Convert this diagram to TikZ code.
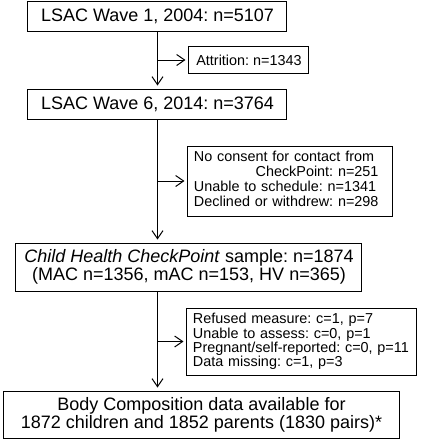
\documentclass[tikz,border=0pt]{standalone}
\usepackage{fontspec}
\setmainfont{Liberation Sans}
\frenchspacing
\usetikzlibrary{shapes,arrows.meta}
\tikzstyle{block} = [rectangle, draw, line width=1pt,
    font=\fontsize{18}{18}\selectfont, align=center, inner sep=5pt]
\tikzstyle{excl} = [rectangle, draw, line width=1pt,
    font=\fontsize{14.4}{14.4}\selectfont, align=left, inner xsep=6pt, inner ysep=3pt]
\tikzstyle{line} = [draw, line width=1pt, shorten >=3pt,
    -{Straight Barb[length=8pt,width=11pt]}]

\begin{document}
\begin{tikzpicture}[x=1pt, y=1pt, node distance = 88pt, auto]
    \useasboundingbox (-157.5,16) rectangle (271.5,-424);
    % Place nodes
    \node [block, minimum width=259pt, minimum height=30pt] (wave1) {LSAC Wave 1, 2004: n=5107};
    \node [block, below of=wave1, minimum width=259pt, minimum height=30pt] (wave6) {LSAC Wave 6, 2014: n=3764};
    \node [excl, right of=wave1, node distance=91.5pt, yshift=-44pt,
        minimum width=120pt, minimum height=27pt] (attr) {Attrition: n=1343};
    \node [excl, right of=wave6, node distance=132.5pt, yshift=-77pt,
        text width=192pt, minimum height=70pt] (noconsent) {\begin{tabular}{@{}l@{}}
        No consent for contact from\\
        \multicolumn{1}{@{}r@{}}{CheckPoint: n=251}\\
        Unable to schedule: n=1341\\
        Declined or withdrew: n=298\end{tabular}};
    \node [block, below of=wave6, node distance=163pt, xshift=31.5pt,
        minimum width=346pt, minimum height=48pt] (chc) {\textit{Child Health CheckPoint} sample: n=1874\\
        (MAC n=1356, mAC n=153, HV n=365)};
    \node [excl, right of=chc, node distance=112.5pt, yshift=-74.5pt,
        text width=217pt, minimum height=67pt] (missing) {Refused measure: c=1, p=7\\
        Unable to assess: c=0, p=1\\
        Pregnant/self-reported: c=0, p=11\\
        Data missing: c=1, p=3};
    \node [block, below of=chc, node distance=147.5pt, xshift=12.5pt,
        minimum width=395pt, minimum height=47pt] (bodycomp) {Body Composition data available for\\
        1872 children and 1852 parents (1830 pairs)*};
    % Draw edges
    \path [line] (wave1.south) -- (wave6.north);
    \path [line] (wave1.south |- attr.west) -- (attr.west);
    \path [line] (wave6.south) -- (wave6.south |- chc.north);
    \path [line] (wave6.south |- noconsent.west) -- (noconsent.west);
    \path [line] (wave6.south |- chc.south) -- (wave6.south |- bodycomp.north);
    \path [line] (wave6.south |- missing.west) -- (missing.west);
\end{tikzpicture}
\end{document}
